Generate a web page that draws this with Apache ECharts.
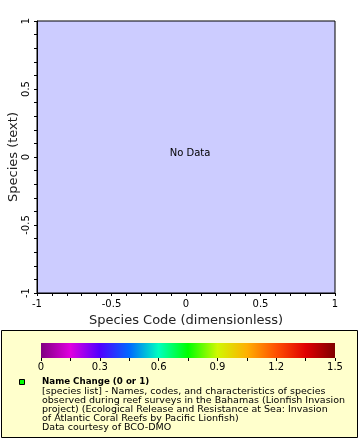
<!DOCTYPE html>
<html><head><meta charset="utf-8">
<script src="https://cdn.jsdelivr.net/npm/echarts@6/dist/echarts.min.js"></script>
<style>html,body{margin:0;padding:0;background:#fff}#c{width:360px;height:440px}</style>
</head><body><div id="c"></div>
<script>
// ---- data ----
const xRange = [-1, 1];
const yRange = [-1, 1];
const nameChangeValues = []; // no data available
const noDataText = 'No Data';
const xTitle = 'Species Code (dimensionless)';
const yTitle = 'Species (text)';
const colorbarRange = [0, 1.5];
const colorbarLabels = ['0', '0.3', '0.6', '0.9', '1.2', '1.5'];
const colorStops = ['#800080', '#e000e0', '#5000ff', '#0068ff', '#00ffc0', '#00ff00',
                    '#d0f800', '#ffb000', '#ff5000', '#e00000', '#800000'];
const legendTitle = 'Name Change (0 or 1)';
const legendLines = [
  '[species list] - Names, codes, and characteristics of species',
  'observed during reef surveys in the Bahamas (Lionfish Invasion',
  'project) (Ecological Release and Resistance at Sea: Invasion',
  'of Atlantic Coral Reefs by Pacific Lionfish)',
  'Data courtesy of BCO-DMO'
];

// ---- chart ----
const FONT = 'DejaVu Sans';
const chart = echarts.init(document.getElementById('c'), null, {renderer: 'canvas'});
const gradient = new echarts.graphic.LinearGradient(0, 0, 1, 0,
  colorStops.map((c, i) => ({offset: i / (colorStops.length - 1), color: c})));

chart.setOption({
  animation: false,
  backgroundColor: '#ffffff',
  textStyle: {fontFamily: FONT},
  grid: [
    {left: 37, top: 21, width: 298, height: 272, show: true, backgroundColor: '#ccccff',
     borderColor: '#000', borderWidth: 1, containLabel: false, outerBoundsMode: 'none'},
    {left: 41, top: 343, width: 294, height: 15, show: false, containLabel: false, outerBoundsMode: 'none'}
  ],
  xAxis: [
    {gridIndex: 0, type: 'value', min: xRange[0], max: xRange[1], interval: 0.5,
     name: xTitle, nameLocation: 'middle', nameGap: 21,
     nameTextStyle: {fontSize: 13, color: '#222', fontFamily: FONT},
     axisLine: {show: true, onZero: false, lineStyle: {color: '#000', width: 1}},
     axisTick: {show: true, length: 3, inside: false, lineStyle: {color: '#000'}},
     minorTick: {show: true, splitNumber: 5, length: 3, lineStyle: {color: '#000'}},
     splitLine: {show: false},
     axisLabel: {fontSize: 10, color: '#000', margin: 6, fontFamily: FONT,
       formatter: v => String(+v.toFixed(2))}},
    {gridIndex: 1, type: 'value', min: colorbarRange[0], max: colorbarRange[1], interval: 0.15,
     axisLine: {show: false},
     axisTick: {show: true, length: 3, lineStyle: {color: '#000'}},
     splitLine: {show: false},
     axisLabel: {fontSize: 10, color: '#000', margin: 4, fontFamily: FONT,
       formatter: (v, i) => (i % 2 === 0 ? colorbarLabels[i / 2] : '')}}
  ],
  yAxis: [
    {gridIndex: 0, type: 'value', min: yRange[0], max: yRange[1], interval: 0.5,
     axisLine: {show: true, onZero: false, lineStyle: {color: '#000', width: 1}},
     axisTick: {show: true, length: 3, lineStyle: {color: '#000'}},
     minorTick: {show: true, splitNumber: 5, length: 3, lineStyle: {color: '#000'}},
     splitLine: {show: false},
     axisLabel: {fontSize: 10, color: '#000', margin: 6, rotate: 90, fontFamily: FONT,
       formatter: v => String(+v.toFixed(2))}},
    {gridIndex: 1, type: 'value', min: 0, max: 1, show: false}
  ],
  series: [
    {type: 'scatter', xAxisIndex: 0, yAxisIndex: 0, data: nameChangeValues,
     symbolSize: 5, itemStyle: {color: '#00ff00', borderColor: '#000'}},
    {type: 'custom', xAxisIndex: 1, yAxisIndex: 1, z: 5,
     data: [[colorbarRange[0], colorbarRange[1]]],
     renderItem: (params, api) => {
       const p0 = api.coord([api.value(0), 0]);
       const p1 = api.coord([api.value(1), 1]);
       return {type: 'rect',
         shape: {x: p0[0], y: p1[1], width: p1[0] - p0[0], height: p0[1] - p1[1]},
         style: {fill: gradient}};
     }}
  ],
  graphic: [
    {type: 'text', x: 14, y: 157, rotation: Math.PI / 2, z: 100,
     style: {text: yTitle, align: 'center', verticalAlign: 'middle',
       font: '13px "DejaVu Sans"', fill: '#222'}},
    {type: 'text', x: 190, y: 153, z: 100,
     style: {text: noDataText, align: 'center', verticalAlign: 'middle',
       font: '10px "DejaVu Sans"', fill: '#000'}},
    {type: 'rect', z: -1, shape: {x: 1.5, y: 330.5, width: 356, height: 107},
     style: {fill: '#ffffcc', stroke: '#000', lineWidth: 1}},
    {type: 'rect', z: 100, shape: {x: 19.5, y: 379.5, width: 5, height: 5},
     style: {fill: '#00ff00', stroke: '#000', lineWidth: 1}},
    {type: 'text', z: 100, x: 42, y: 382,
     style: {text: legendTitle, verticalAlign: 'middle', font: 'bold 8.7px "DejaVu Sans"', fill: '#000'}},
    {type: 'text', z: 100, x: 42, y: 387.5,
     style: {text: legendLines.join('\n'), verticalAlign: 'top', lineHeight: 8.8,
       font: '9.5px "DejaVu Sans"', fill: '#000'}}
  ]
});
</script></body></html>
